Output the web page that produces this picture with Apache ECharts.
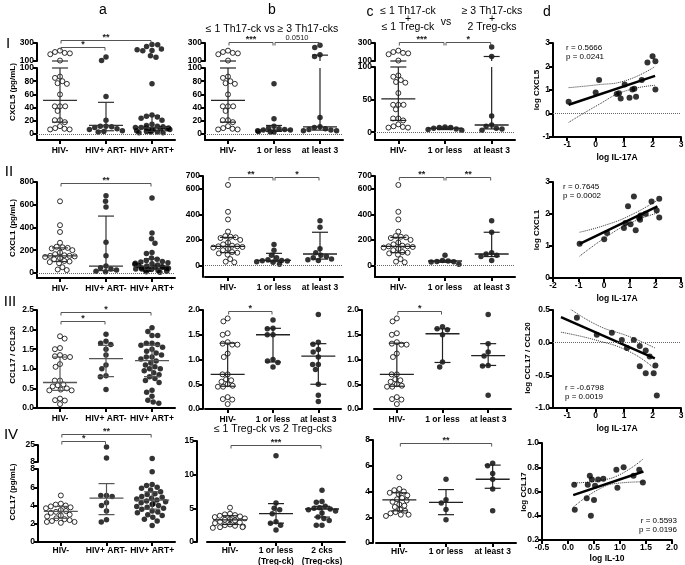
<!DOCTYPE html>
<html><head><meta charset="utf-8">
<script src="https://cdn.jsdelivr.net/npm/echarts@6/dist/echarts.min.js"></script>
<style>html,body{margin:0;padding:0;background:#fff}#c{width:685px;height:565px}</style>
</head><body><div id="c"></div>
<script>
// ================= DATA =================
const catsA = ['HIV-', 'HIV+ ART-', 'HIV+ ART+'];
const catsB = ['HIV-', '1 or less', 'at least 3'];
const catsB4 = ['HIV-', '1 or less\n(Treg-ck)', '2 cks\n(Treg-cks)'];

// Row I : CXCL5 (pg/mL)
const cx5Neg = [215, 200, 190, 185, 175, 105, 87, 85, 80, 77, 76, 60, 42, 42, 42, 35, 21, 21, 18, 12, 9, 8, 7, 7];
const cx5ArtNeg = [145, 105, 57, 21, 12, 12, 11, 10, 8, 7, 5, 4, 3];
const cx5ArtPos = [282, 262, 280, 232, 218, 215, 224, 157, 141, 76, 29, 27, 26, 24, 21, 15, 13, 12, 11, 10, 10, 9, 9, 8, 8, 7, 7, 6, 5, 5, 4, 3, 3, 2, 2];
const cx5Le1 = [76, 23, 12, 9, 8, 7, 6, 6, 5, 4, 3, 3];
const cx5Ge3 = [275, 250, 170, 150, 25, 11, 10, 8, 7, 6, 5, 5];
const cx5cLe1 = [8, 7, 7, 6, 5, 4, 3];
const cx5cGe3 = [255, 150, 25, 11, 9, 6, 5, 3];
const cx5aStats = [[51, 18, 100], [13, 5, 48], [10, 4, 28]];   // [median, q1, q3]
const cx5bStats = [[51, 18, 100], [6, 4, 13], [11, 6, 165]];
const cx5cStats = [[51, 18, 100], [6, 4, 8], [11, 5, 150]];
const cx5aBr = [[0, 2, 333, '**'], [0, 1, 256, '*']];
const cx5bBr = [[0, 1, 312, '***'], [1, 2, 312, '0.0510']];
const cx5cBr = [[0, 1, 312, '***'], [1, 2, 312, '*']];

// Row II : CXCL1 (pg/mL)
const cx1Neg = [630, 420, 360, 265, 230, 225, 220, 215, 200, 180, 165, 155, 150, 150, 145, 140, 130, 120, 105, 100, 95, 85, 50, 30, 25];
const cx1ArtNeg = [680, 630, 580, 270, 150, 60, 45, 35, 25, 15, 10];
const cx1ArtPos = [660, 350, 300, 260, 180, 170, 130, 120, 110, 100, 95, 90, 85, 80, 75, 70, 65, 60, 55, 50, 50, 45, 40, 40, 35, 35, 30, 30, 25, 20, 15, 10, 5];
const cx1Le1 = [165, 120, 80, 60, 45, 40, 38, 35, 30, 25, 10];
const cx1Ge3 = [350, 300, 130, 100, 80, 70, 60, 50, 45, 40];
const cx1cLe1 = [80, 40, 35, 32, 30, 28, 10];
const cx1cGe3 = [350, 260, 100, 90, 80, 70, 40];
const cx1aStats = [[150, 100, 220], [60, 20, 500], [60, 30, 125]];
const cx1bStats = [[150, 100, 220], [40, 30, 95], [90, 50, 260]];
const cx1cStats = [[150, 100, 220], [35, 25, 40], [90, 70, 260]];
const cx1aBr = [[0, 2, 795, '**']];
const cx1bBr = [[0, 1, 690, '**'], [1, 2, 690, '*']];
const cx1cBr = [[0, 1, 690, '**'], [1, 2, 690, '**']];

// Row III : CCL17 / CCL20
const rNeg = [1.83, 1.77, 1.53, 1.5, 1.35, 1.32, 1.3, 1.3, 1.12, 1.05, 0.7, 0.7, 0.6, 0.58, 0.55, 0.5, 0.47, 0.45, 0.45, 0.24, 0.2, 0.19, 0.1];
const rArtNeg = [1.88, 1.7, 1.65, 1.62, 1.5, 1.35, 1.1, 1.0, 0.82, 0.8, 0.47];
const rArtPos = [2.05, 1.95, 1.85, 1.85, 1.65, 1.65, 1.62, 1.6, 1.55, 1.5, 1.45, 1.4, 1.35, 1.3, 1.3, 1.25, 1.2, 1.15, 1.1, 1.05, 1.0, 1.0, 0.95, 0.9, 0.85, 0.8, 0.75, 0.7, 0.65, 0.45, 0.4, 0.3, 0.2, 0.15, 0.12];
const rLe1 = [1.8, 1.63, 1.62, 1.5, 1.5, 1.0, 0.97, 0.94, 0.85];
const rGe3 = [1.91, 1.35, 1.31, 1.2, 1.15, 1.05, 0.9, 0.9, 0.8, 0.5, 0.28, 0.15];
const rcLe1 = [1.66, 1.62, 1.6, 1.5, 0.95, 0.85];
const rcGe3 = [1.91, 1.32, 1.15, 1.07, 0.88, 0.87, 0.28];
const raStats = [[0.65, 0.45, 1.3], [1.26, 0.8, 1.6], [1.21, 0.8, 1.6]];
const rbStats = [[0.7, 0.46, 1.33], [1.5, 0.95, 1.63], [1.07, 0.5, 1.32]];
const rcStats = [[0.7, 0.46, 1.33], [1.52, 0.94, 1.62], [1.08, 0.88, 1.32]];
const raBr = [[0, 2, 2.45, '*'], [0, 1, 2.22, '*']];
const rbBr = [[0, 1, 1.97, '*']];
const rcBr = [[0, 1, 1.97, '*']];

// Row IV : CCL17 (pg/mL)
const c17Neg = [5.1, 4.2, 4.1, 4.0, 3.9, 3.8, 3.7, 3.5, 3.4, 3.3, 3.2, 3.0, 2.9, 2.8, 2.6, 2.5, 2.4, 2.3, 2.2, 2.2, 2.1];
const c17ArtNeg = [23, 12, 5.1, 5.1, 5.0, 4.3, 4.0, 3.4, 2.45, 2.2];
const c17ArtPos = [11.5, 7.7, 6.3, 6.2, 6.0, 5.9, 5.7, 5.5, 5.3, 5.2, 5.0, 4.9, 4.8, 4.7, 4.6, 4.5, 4.4, 4.3, 4.2, 4.1, 4.0, 3.9, 3.8, 3.7, 3.6, 3.4, 3.3, 3.2, 3.0, 2.9, 2.7, 2.5, 2.3, 1.8];
const c17Le1 = [12.8, 5.8, 5.0, 4.8, 4.2, 3.0, 2.8, 2.5, 1.8];
const c17Two = [7.7, 6.0, 5.9, 5.3, 5.1, 5.0, 4.9, 4.8, 4.6, 4.3, 3.7, 3.5, 3.2, 2.5, 2.5];
const c17cLe1 = [4.95, 3.35, 3.1, 2.6, 1.8];
const c17cGe3 = [6.2, 6.0, 5.4, 4.95, 4.2, 2.5];
const c17aStats = [[3.35, 2.6, 3.9], [4.8, 3.0, 6.4], [4.6, 3.6, 5.5]];
const c17bStats = [[3.3, 2.6, 3.9], [4.2, 2.8, 5.7], [4.9, 3.7, 5.3]];
const c17cStats = [[3.35, 2.5, 3.9], [3.15, 2.2, 4.15], [4.95, 4.25, 6.05]];
const c17aBr = [[0, 2, 36, '**'], [0, 1, 29, '*']];
const c17bBr = [[0, 2, 14.4, '***']];
const c17cBr = [[0, 2, 7.8, '**']];

// Column d : correlations
const d1Pts = [[-0.95, 0.50], [0.0, 0.89], [0.12, 1.43], [0.74, 0.83], [0.82, 0.86], [0.88, 0.64], [1.02, 1.23], [1.29, 1.02], [1.36, 1.05], [1.19, 0.67], [1.42, 0.71], [1.62, 1.43], [1.82, 2.17], [2.0, 2.44], [2.1, 2.22], [2.1, 1.02]];
const d1Fit = [[-0.95, 0.37], [2.09, 1.6]];
const d1Up = [[-0.95, 1.1], [0.05, 1.22], [1.0, 1.38], [2.09, 2.0]];
const d1Lo = [[-0.95, -0.38], [0.05, 0.34], [1.0, 0.94], [2.09, 1.2]];

const d2Pts = [[-0.96, 1.07], [0.0, 1.21], [0.11, 1.41], [0.77, 1.56], [0.83, 1.72], [0.93, 2.24], [1.03, 1.68], [1.16, 2.55], [1.23, 1.49], [1.36, 1.88], [1.4, 1.82], [1.42, 1.95], [1.62, 2.01], [1.85, 2.39], [2.05, 2.11], [2.15, 2.48], [2.15, 1.89]];
const d2Fit = [[-0.96, 1.07], [2.08, 2.24]];
const d2Up = [[-0.96, 1.43], [0, 1.64], [1, 1.95], [2.08, 2.43]];
const d2Lo = [[-0.96, 0.68], [0, 1.24], [1, 1.71], [2.08, 2.03]];

const d3Pts = [[-0.66, 0.38], [0.04, 0.12], [0.57, 0.15], [0.92, 0.04], [1.1, -0.08], [1.34, 0.04], [1.55, -0.05], [1.76, -0.12], [1.9, -0.21], [2.1, -0.35], [1.55, -0.36], [1.76, -0.47], [2.04, -0.47], [2.15, -0.81]];
const d3Fit = [[-1.22, 0.39], [2.08, -0.24]];
const d3Up = [[-1.22, 0.62], [0, 0.28], [1.2, 0.09], [2.08, -0.08]];
const d3Lo = [[-1.22, 0.16], [0, 0.04], [1.2, -0.14], [2.08, -0.4]];

const d4Pts = [[0.12, 0.655], [0.13, 0.45], [0.36, 0.545], [0.38, 0.655], [0.42, 0.73], [0.46, 0.70], [0.5, 0.53], [0.52, 0.647], [0.58, 0.70], [0.68, 0.705], [0.44, 0.40], [0.93, 0.78], [0.95, 0.63], [1.07, 0.80], [1.26, 0.73], [1.37, 0.78], [1.44, 0.675]];
const d4Fit = [[0.1, 0.57], [1.45, 0.765]];
const d4Up = [[0.1, 0.67], [0.6, 0.69], [1.0, 0.74], [1.45, 0.87]];
const d4Lo = [[0.1, 0.47], [0.6, 0.62], [1.0, 0.67], [1.45, 0.68]];

// ================= BUILD =================
const FONT = '"Liberation Sans", Arial, sans-serif';
const K = '#000';
const grids = [], xAxes = [], yAxes = [], series = [], graphic = [];

function fmt(dec) { return v => dec == null ? String(v) : v.toFixed(dec); }
function yAx(gi, seg, extra) {
  return Object.assign({
    gridIndex: gi, type: 'value', min: seg.min, max: seg.max,
    axisLine: { show: true, onZero: false, lineStyle: { color: K, width: 2 } },
    axisTick: { show: true, length: 4, lineStyle: { color: K, width: 2 }, customValues: seg.ticks },
    axisLabel: { show: true, customValues: seg.ticks, fontSize: 8.5, fontWeight: 'bold', color: K, fontFamily: FONT, margin: 3, formatter: fmt(seg.dec) },
    splitLine: { show: false }
  }, extra || {});
}
function segOf(segs, v) {
  for (let i = 0; i < segs.length - 1; i++) if (v > segs[i].min) return i;
  return segs.length - 1;
}
function ln(x1, y1, x2, y2, col, w) {
  return { type: 'line', shape: { x1, y1, x2, y2 }, style: { stroke: col, lineWidth: w } };
}
function statsRender(seg, col) {
  return (params, api) => {
    const c = api.value(0), med = api.value(1), q1 = api.value(2), q3 = api.value(3);
    const inR = v => v >= seg.min - 1e-9 && v <= seg.max + 1e-9;
    const cl = v => Math.max(seg.min, Math.min(seg.max, v));
    const px = api.coord([c, cl(med)])[0];
    const els = [];
    const lo = cl(q1), hi = cl(q3);
    if (hi > lo) els.push(ln(px, api.coord([c, lo])[1], px, api.coord([c, hi])[1], col, 1.2));
    if (inR(med)) { const y = api.coord([c, med])[1]; els.push(ln(px - 17, y, px + 17, y, col, 1.3)); }
    [q1, q3].forEach(v => { if (inR(v)) { const y = api.coord([c, v])[1]; els.push(ln(px - 8, y, px + 8, y, col, 1.2)); } });
    return { type: 'group', children: els };
  };
}
function bracketRender(list) {
  return (params, api) => {
    const b = list[params.dataIndex];
    const p1 = api.coord([b[0], b[2]]), p2 = api.coord([b[1], b[2]]);
    const x1 = p1[0] + 1, x2 = p2[0] - 1, y = Math.round(p1[1]) + 0.5;
    const long = b[3].length > 3;
    return { type: 'group', children: [
      { type: 'polyline', shape: { points: [[x1, y + 3], [x1, y], [x2, y], [x2, y + 3]] }, style: { stroke: '#555', lineWidth: 1, fill: null } },
      { type: 'text', style: { text: b[3], x: (x1 + x2) / 2, y: long ? y - 1 : y + 2, align: 'center', verticalAlign: 'bottom', fontSize: long ? 7.5 : 9, fontWeight: long ? 'normal' : 'bold', fill: '#222', fontFamily: FONT } }
    ] };
  };
}
function catPanel(p) {
  const n = p.segs.length;
  p.segs.forEach((seg, si) => {
    const gi = grids.length;
    grids.push({ left: p.x0, top: seg.top, width: p.x1 - p.x0, height: seg.bottom - seg.top, outerBoundsMode: 'none', containLabel: false });
    const last = si === n - 1;
    const xi = xAxes.length;
    xAxes.push({ gridIndex: gi, type: 'category', data: p.cats, boundaryGap: true,
      jitter: 36, jitterOverlap: false, jitterMargin: 0.2,
      axisLine: { show: last, onZero: false, lineStyle: { color: K, width: 2 } },
      axisTick: { show: last, alignWithLabel: true, length: 4, lineStyle: { color: K, width: 2 } },
      axisLabel: { show: last, fontSize: 8.5, fontWeight: 'bold', color: K, fontFamily: FONT, margin: p.lm != null ? p.lm : 5, lineHeight: 11, interval: 0 },
      splitLine: { show: false } });
    const yi = yAxes.length;
    yAxes.push(yAx(gi, seg, { offset: p.yOff || 0 }));
    p.groups.forEach((vals, g) => {
      const mine = vals.filter(v => segOf(p.segs, v) === si);
      const s = { type: 'scatter', xAxisIndex: xi, yAxisIndex: yi, data: mine.map(v => [g, v]), symbol: 'circle',
        symbolSize: g === 0 ? 5 : 5.5,
        itemStyle: g === 0 ? { color: '#fff', borderColor: K, borderWidth: 1 } : { color: K },
        silent: true, z: 3, animation: false };
      if (g === 0 && seg.min < 0 && seg.max > 0) {
        s.markLine = { silent: true, symbol: ['none', 'none'], label: { show: false }, animation: false,
          lineStyle: { type: 'dotted', color: '#666', width: 1 }, data: [{ yAxis: 0 }] };
      }
      series.push(s);
    });
    series.push({ type: 'custom', xAxisIndex: xi, yAxisIndex: yi, data: p.stats.map((s, g) => [g, s[0], s[1], s[2]]),
      renderItem: statsRender(seg, p.statCol || '#222'), silent: true, z: 4, animation: false });
    if (si === 0 && p.brackets) {
      series.push({ type: 'custom', xAxisIndex: xi, yAxisIndex: yi, data: p.brackets.map(b => [b[0], b[1], b[2]]),
        renderItem: bracketRender(p.brackets), silent: true, z: 5, animation: false, clip: false });
    }
  });
}
function regPanel(p) {
  const gi = grids.length;
  grids.push({ left: p.x0, top: p.top, width: p.x1 - p.x0, height: p.bottom - p.top, outerBoundsMode: 'none', containLabel: false });
  const xi = xAxes.length, yi = yAxes.length;
  xAxes.push({ gridIndex: gi, type: 'value', min: p.xr[0], max: p.xr[1],
    axisLine: { show: true, onZero: false, lineStyle: { color: K, width: 2 } },
    axisTick: { show: true, length: 4, lineStyle: { color: K, width: 2 }, customValues: p.xt },
    axisLabel: { show: true, customValues: p.xt, fontSize: 8.5, fontWeight: 'bold', color: K, fontFamily: FONT, margin: 3, formatter: fmt(p.xd) },
    splitLine: { show: false },
    name: p.xName, nameLocation: 'middle', nameGap: p.ng || 16,
    nameTextStyle: { fontSize: 8.5, fontWeight: 'bold', color: K, fontFamily: FONT } });
  yAxes.push(yAx(gi, { min: p.yr[0], max: p.yr[1], ticks: p.yt, dec: p.yd }));
  series.push({ type: 'scatter', xAxisIndex: xi, yAxisIndex: yi, data: p.pts, symbolSize: 6, itemStyle: { color: K }, silent: true, z: 3, animation: false,
    markLine: p.zero ? { silent: true, symbol: ['none', 'none'], label: { show: false }, animation: false,
      lineStyle: { type: 'dotted', color: '#666', width: 1 }, data: [{ yAxis: 0 }] } : undefined });
  series.push({ type: 'line', xAxisIndex: xi, yAxisIndex: yi, data: p.fit, symbol: 'none', lineStyle: { color: K, width: 2.5 }, silent: true, z: 4, animation: false });
  [p.up, p.lo].forEach(d => series.push({ type: 'line', xAxisIndex: xi, yAxisIndex: yi, data: d, smooth: true, symbol: 'none',
    lineStyle: { color: '#333', width: 1, type: 'dotted' }, silent: true, z: 2, animation: false }));
}
function txt(x, y, text, style, rot) {
  const g = { type: 'text', x, y, silent: true, style: Object.assign({ text, fontSize: 11, fontFamily: FONT, fill: K, align: 'center', verticalAlign: 'middle' }, style || {}) };
  if (rot) g.rotation = rot;
  graphic.push(g);
}

// ---------- Row I ----------
const segI = [{ top: 43, bottom: 61, min: 100, max: 300, ticks: [100, 300] }, { top: 68, bottom: 140, min: -9, max: 100, ticks: [0, 20, 40, 60, 80, 100] }];
const segIc = [{ top: 43, bottom: 61, min: 100, max: 300, ticks: [100, 300] }, { top: 67, bottom: 140, min: -12, max: 100, ticks: [0, 50, 100] }];
catPanel({ x0: 37, x1: 175, segs: segI, cats: catsA, groups: [cx5Neg, cx5ArtNeg, cx5ArtPos], stats: cx5aStats, brackets: cx5aBr, statCol: '#333' });
catPanel({ x0: 205, x1: 343, segs: segI, cats: catsB, groups: [cx5Neg, cx5Le1, cx5Ge3], stats: cx5bStats, brackets: cx5bBr });
catPanel({ x0: 375, x1: 515, segs: segIc, cats: catsB, groups: [cx5Neg, cx5cLe1, cx5cGe3], stats: cx5cStats, brackets: cx5cBr });
regPanel({ x0: 553, x1: 681, top: 43, bottom: 137, xr: [-1.5, 3], xt: [-1, 0, 1, 2, 3], yr: [-1, 3], yt: [-1, 0, 1, 2, 3],
  xName: 'log IL-17A', pts: d1Pts, fit: d1Fit, up: d1Up, lo: d1Lo, zero: true });

// ---------- Row II ----------
const segIIa = [{ top: 182, bottom: 278, min: -45, max: 800, ticks: [0, 200, 400, 600, 800] }];
const segIIb = [{ top: 176, bottom: 277, min: -90, max: 700, ticks: [0, 200, 400, 600, 700] }];
catPanel({ x0: 37, x1: 175, segs: segIIa, cats: catsA, groups: [cx1Neg, cx1ArtNeg, cx1ArtPos], stats: cx1aStats, brackets: cx1aBr, statCol: '#333' });
catPanel({ x0: 205, x1: 343, yOff: 2, segs: segIIb, cats: catsB, groups: [cx1Neg, cx1Le1, cx1Ge3], stats: cx1bStats, brackets: cx1bBr });
catPanel({ x0: 375, x1: 515, segs: segIIb, cats: catsB, groups: [cx1Neg, cx1cLe1, cx1cGe3], stats: cx1cStats, brackets: cx1cBr });
regPanel({ x0: 553, x1: 681, top: 182, bottom: 278, xr: [-2, 3], xt: [-2, -1, 0, 1, 2, 3], yr: [0, 3], yt: [0, 1, 2, 3],
  xName: 'log IL-17A', pts: d2Pts, fit: d2Fit, up: d2Up, lo: d2Lo, zero: false });

// ---------- Row III ----------
const segIIIa = [{ top: 310, bottom: 408, min: 0, max: 2.5, ticks: [0, 0.5, 1, 1.5, 2, 2.5], dec: 1 }];
const segIIIb = [{ top: 310, bottom: 409, min: 0, max: 2, ticks: [0, 0.5, 1, 1.5, 2], dec: 1 }];
catPanel({ x0: 37, x1: 175, segs: segIIIa, cats: catsA, groups: [rNeg, rArtNeg, rArtPos], stats: raStats, brackets: raBr, statCol: '#555' });
catPanel({ x0: 205, x1: 341, yOff: 2, segs: segIIIb, cats: catsB, groups: [rNeg, rLe1, rGe3], stats: rbStats, brackets: rbBr });
catPanel({ x0: 374, x1: 511, yOff: 12, segs: segIIIb, cats: catsB, groups: [rNeg, rcLe1, rcGe3], stats: rcStats, brackets: rcBr });
regPanel({ x0: 553, x1: 681, top: 310, bottom: 408, xr: [-1.5, 3], xt: [-1, 0, 1, 2, 3], yr: [-1, 0.5], yt: [-1, -0.5, 0, 0.5], yd: 1,
  xName: 'log IL-17A', pts: d3Pts, fit: d3Fit, up: d3Up, lo: d3Lo, zero: true });

// ---------- Row IV ----------
const segIVa = [{ top: 445, bottom: 462, min: 8, max: 25, ticks: [8, 25] }, { top: 469, bottom: 542, min: 0, max: 8, ticks: [0, 2, 4, 6, 8] }];
catPanel({ x0: 38, x1: 175, lm: 3, segs: segIVa, cats: catsA, groups: [c17Neg, c17ArtNeg, c17ArtPos], stats: c17aStats, brackets: c17aBr, statCol: '#555' });
catPanel({ x0: 207, x1: 345, lm: 3, yOff: 10, segs: [{ top: 441, bottom: 542, min: 0, max: 15, ticks: [0, 5, 10, 15] }], cats: catsB4, groups: [c17Neg, c17Le1, c17Two], stats: c17bStats, brackets: c17bBr });
catPanel({ x0: 376, x1: 516, lm: 3, yOff: 3, segs: [{ top: 440, bottom: 543, min: 0, max: 8, ticks: [0, 2, 4, 6, 8] }], cats: catsB, groups: [c17Neg, c17cLe1, c17cGe3], stats: c17cStats, brackets: c17cBr });
regPanel({ x0: 542, x1: 672, top: 443, bottom: 540, ng: 14, xr: [-0.5, 2], xt: [-0.5, 0, 0.5, 1, 1.5, 2], xd: 1, yr: [0.2, 1.0], yt: [0.2, 0.4, 0.6, 0.8, 1.0], yd: 1,
  xName: 'log IL-10', pts: d4Pts, fit: d4Fit, up: d4Up, lo: d4Lo, zero: false });

// ---------- Texts ----------
txt(103, 10, 'a', { fontSize: 14 }); txt(272, 10, 'b', { fontSize: 14 }); txt(370, 12, 'c', { fontSize: 14 }); txt(547, 12, 'd', { fontSize: 14 });
txt(8, 44, 'I', { fontSize: 15 }); txt(9, 172, 'II', { fontSize: 15 }); txt(10, 302, 'III', { fontSize: 15 }); txt(11, 435, 'IV', { fontSize: 15 });
txt(272, 29, '\u2264 1 Th17-ck vs \u2265 3 Th17-cks', { fontSize: 10.5 });
txt(408, 11, '\u2264 1 Th17-ck', { fontSize: 10.5 }); txt(408, 19, '+', { fontSize: 10.5 }); txt(408, 27, '\u2264 1 Treg-ck', { fontSize: 10.5 });
txt(446, 22, 'vs', { fontSize: 10.5 });
txt(492, 11, '\u2265 3 Th17-cks', { fontSize: 10.5 }); txt(492, 19, '+', { fontSize: 10.5 }); txt(492, 27, '2 Treg-cks', { fontSize: 10.5 });
txt(273, 429, '\u2264 1 Treg-ck vs 2 Treg-cks', { fontSize: 10.5 });
const yn = { fontSize: 8, fontWeight: 'bold' };
txt(13, 92, 'CXCL5 (pg/mL)', yn, Math.PI / 2);
txt(13, 228, 'CXCL1 (pg/mL)', yn, Math.PI / 2);
txt(13, 355, 'CCL17 / CCL20', yn, Math.PI / 2);
txt(13, 492, 'CCL17 (pg/mL)', yn, Math.PI / 2);
txt(537, 90, 'log CXCL5', yn, Math.PI / 2);
txt(537, 230, 'log CXCL1', yn, Math.PI / 2);
txt(528, 358, 'log CCL17 / CCL20', yn, Math.PI / 2);
txt(524, 492, 'log CCL17', yn, Math.PI / 2);
const rp = { fontSize: 8, align: 'left' };
txt(566, 48, 'r = 0.5666', rp); txt(566, 57, 'p = 0.0241', rp);
txt(563, 187, 'r = 0.7645', rp); txt(563, 196, 'p = 0.0002', rp);
txt(565, 388, 'r = -0.6798', rp); txt(565, 397, 'p = 0.0019', rp);
txt(677, 521, 'r = 0.5593', { fontSize: 8, align: 'right' }); txt(677, 530, 'p = 0.0196', { fontSize: 8, align: 'right' });

const chart = echarts.init(document.getElementById('c'), null, { renderer: 'canvas' });
chart.setOption({ backgroundColor: '#fff', animation: false, textStyle: { fontFamily: FONT }, grid: grids, xAxis: xAxes, yAxis: yAxes, series, graphic });
</script></body></html>
